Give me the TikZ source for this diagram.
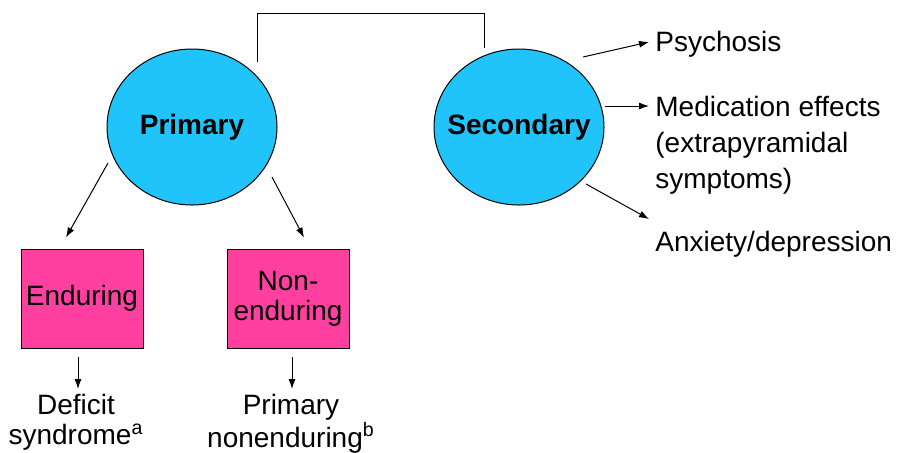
\documentclass[tikz,border=0pt]{standalone}
\usepackage{fontspec}
\setmainfont{Liberation Sans}
\usetikzlibrary{shapes.geometric,arrows.meta}
\definecolor{bubble}{RGB}{33,196,250}
\definecolor{boxpink}{RGB}{255,64,160}
\tikzset{
    kind/.style={ellipse, draw, line width=0.5pt, fill=bubble, minimum width=85pt, minimum height=78pt, inner xsep=-20pt, inner ysep=0pt, font=\fontsize{14}{17}\selectfont\bfseries},
    stage/.style={rectangle, draw, line width=0.5pt, fill=boxpink, minimum width=61pt, minimum height=49.5pt, inner sep=0pt, align=center, font=\fontsize{14}{15}\selectfont},
    outcome/.style={inner sep=0pt, anchor=north, align=center, font=\fontsize{14}{15}\selectfont},
    effect/.style={inner sep=0pt, anchor=north west, align=left, font=\fontsize{14}{18}\selectfont},
    arr/.style={-{Latex[length=5pt,width=3.5pt]}, line width=0.5pt},
}
\begin{document}
\begin{tikzpicture}[x=0.5pt, y=-0.5pt]
    \useasboundingbox (0,0) rectangle (898,452);
    % the two kinds
    \node[kind] (pri) at (192,127) {Primary};
    \node[kind] (sec) at (519,127) {Secondary};
    \draw[line width=0.5pt] ([shift={(65,-65)}]pri.center) |- ([shift={(-35,-114)}]sec.center) -- ([shift={(-35,-79)}]sec.center);
    % primary branch
    \node[stage] (end) at (82,298.5) {Enduring};
    \node[stage] (non) at (288,298.5) {Non-\\enduring};
    \node[outcome] (def) at (76,394) {Deficit\\syndrome\textsuperscript{a}};
    \node[outcome] (pnd) at (291,394) {Primary\\nonenduring\textsuperscript{b}};
    \draw[arr] ([shift={(-84,36)}]pri.center) -- ([shift={(-16,-11)}]end.north);
    \draw[arr] ([shift={(80,50)}]pri.center) -- ([shift={(16,-11)}]non.north);
    \draw[arr] ([shift={(-4,8)}]end.south) -- ([shift={(2,-5)}]def.north);
    \draw[arr] ([shift={(4,8)}]non.south) -- ([shift={(1,-5)}]pnd.north);
    % secondary branch
    \node[effect] (psy) at (655,31) {Psychosis};
    \node[effect] (med) at (655,96) {Medication effects\\(extrapyramidal\\symptoms)};
    \node[effect] (anx) at (655,231) {Anxiety/depression};
    \draw[arr] ([shift={(64,-70)}]sec.center) -- ([shift={(-6,11)}]psy.north west);
    \draw[arr] ([shift={(86,-21)}]sec.center) -- ([shift={(-6,10)}]med.north west);
    \draw[arr] ([shift={(67,57)}]sec.center) -- ([shift={(-6,-12)}]anx.north west);
\end{tikzpicture}
\end{document}
